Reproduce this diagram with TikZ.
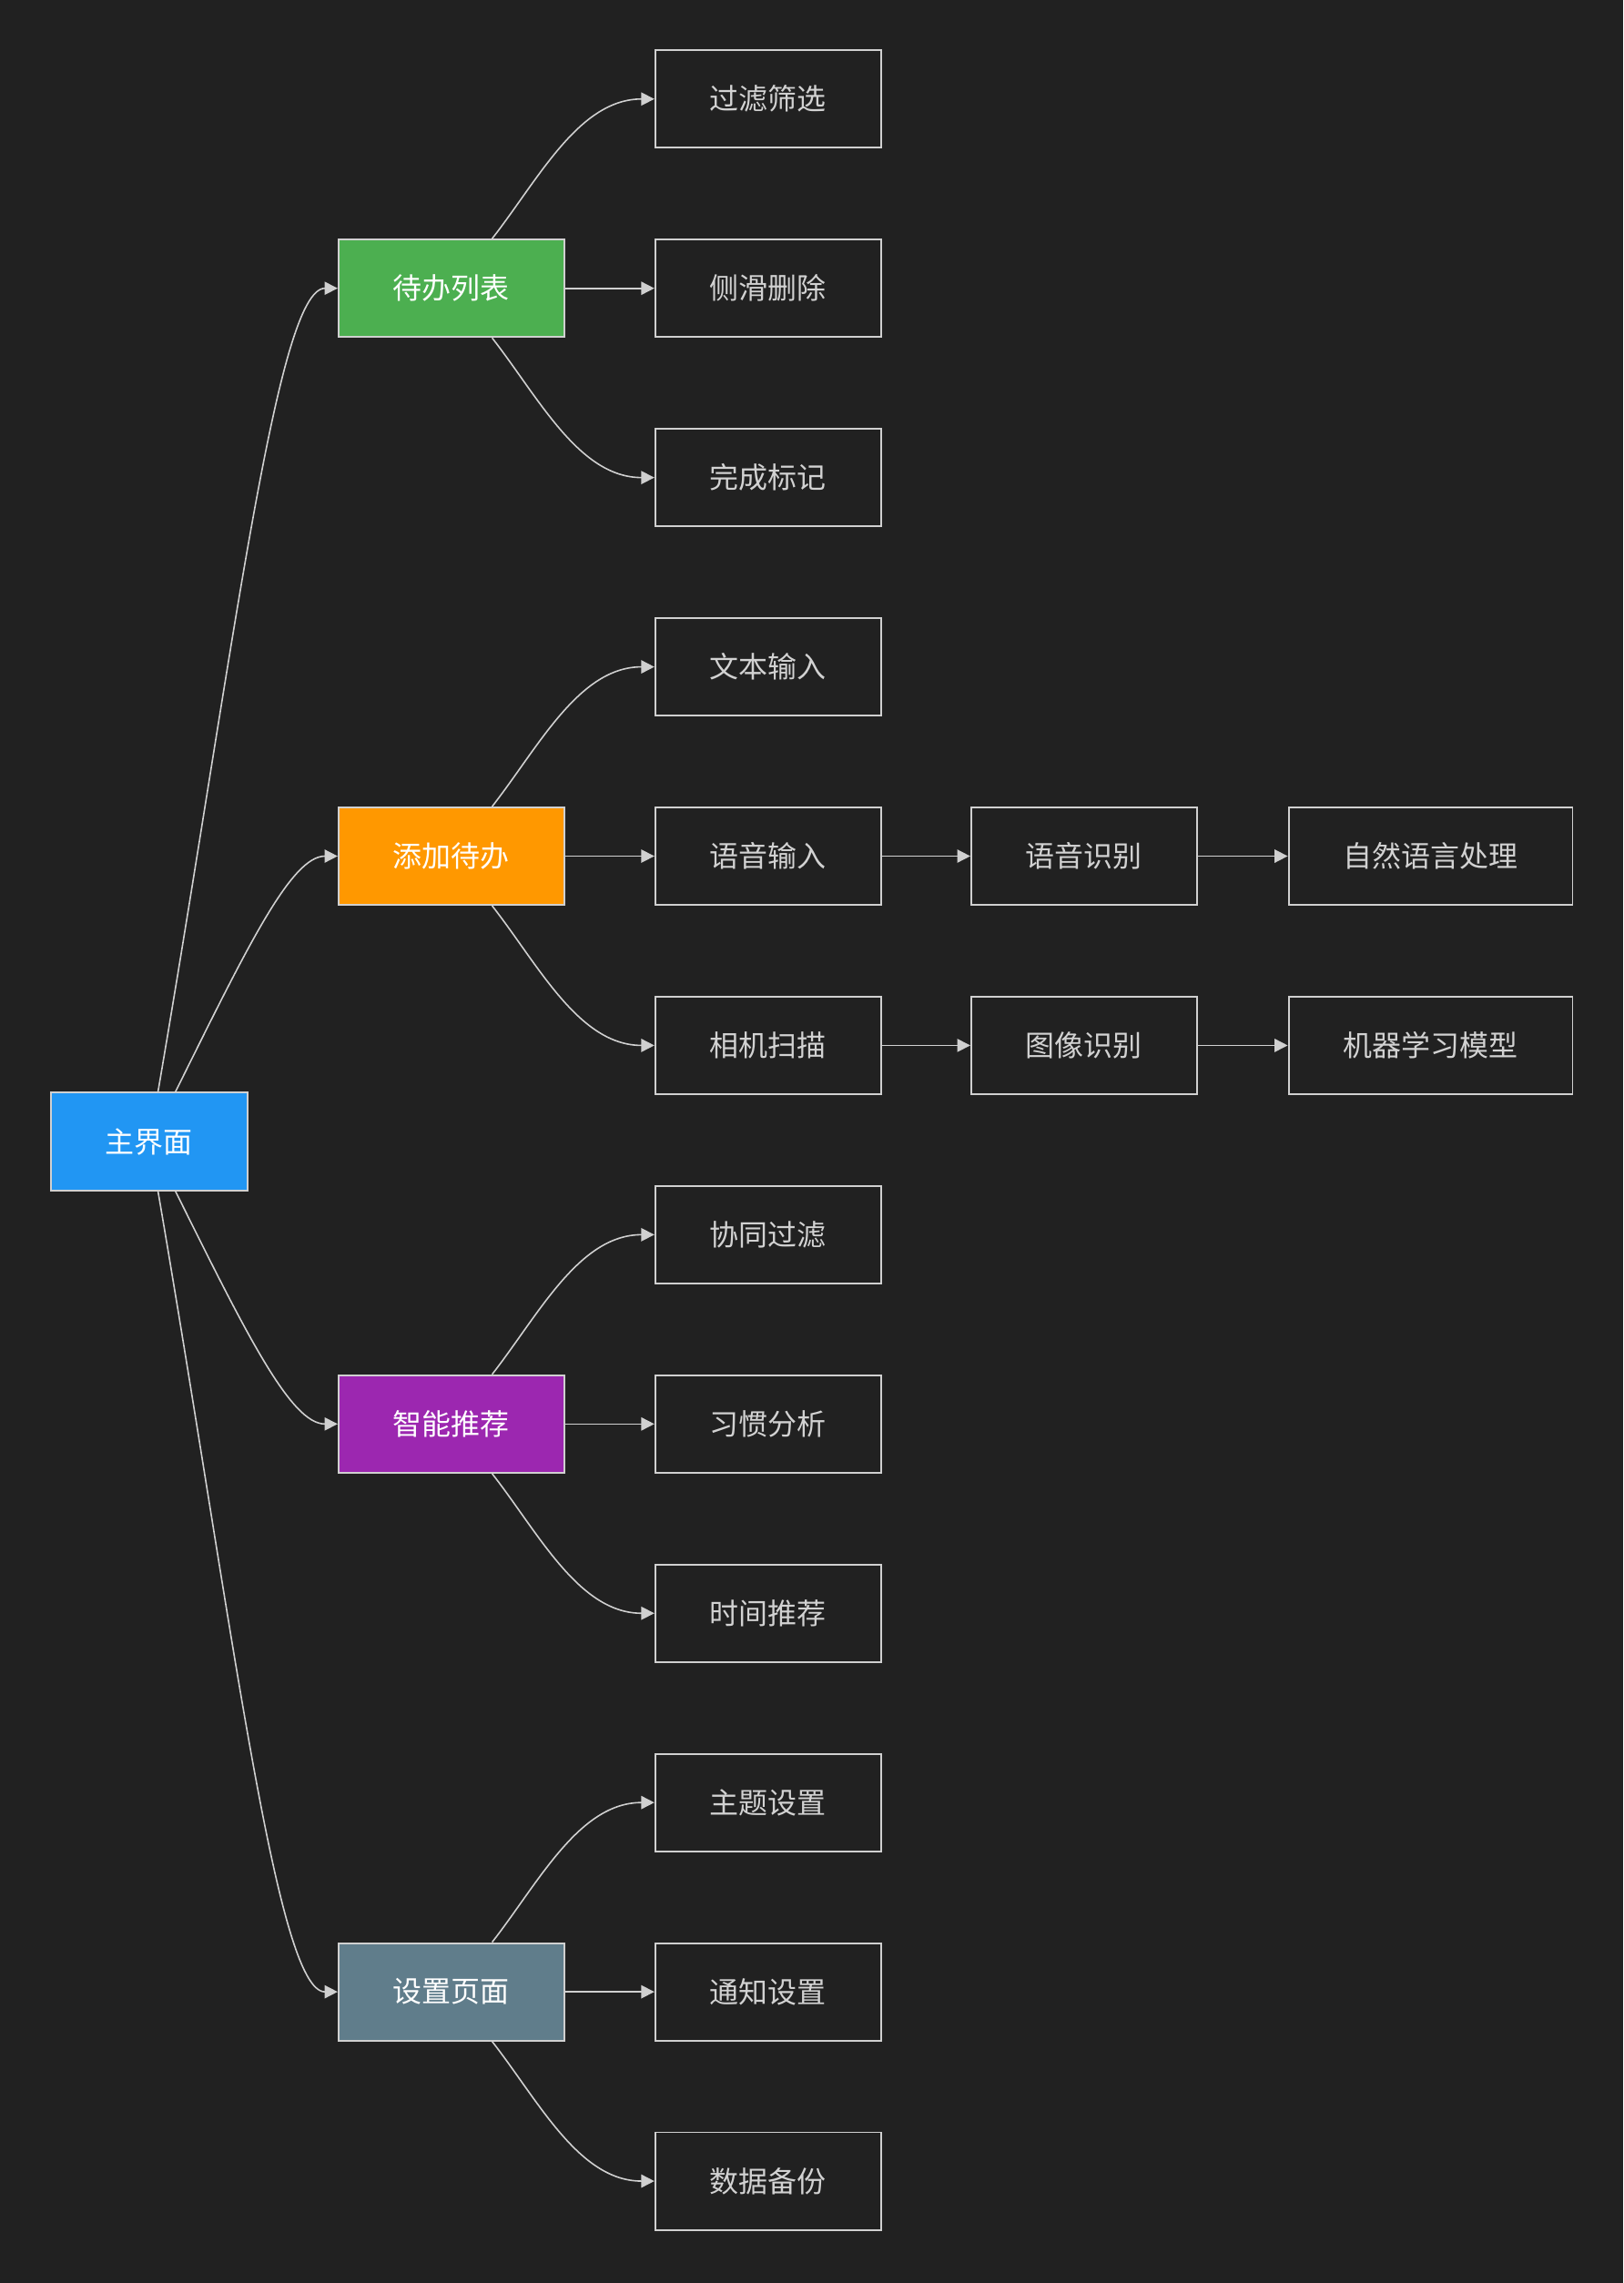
\documentclass[tikz,border=0pt]{standalone}
\usepackage{fontspec}
\setmainfont{Noto Sans CJK SC}
\usetikzlibrary{arrows.meta}
\definecolor{bg}{HTML}{212121}
\definecolor{ln}{HTML}{D0D0D0}
\definecolor{c0}{HTML}{2196F3}
\definecolor{c1}{HTML}{4CAF50}\definecolor{c2}{HTML}{FF9800}\definecolor{c3}{HTML}{9C27B0}\definecolor{c4}{HTML}{607D8B}
\tikzset{
 x=0.5pt,y=-0.5pt,
 box/.style={draw=ln,line width=0.6pt,minimum width=77.5pt,minimum height=33.5pt,inner sep=0pt,font=\fontsize{10}{12}\selectfont},
 leaf/.style={box,fill=bg,text=ln!95},
 wide/.style={leaf,minimum width=97.5pt},
 top/.style={box,text=white,minimum width=77.5pt},
 arr/.style={draw=ln,line width=0.5pt,-{Triangle[length=4.5pt,width=4.5pt]}}
}
\begin{document}
\begin{tikzpicture}
\fill[bg] (0,0) rectangle (1115,1568);
\useasboundingbox (0,0) rectangle (1115,1568);
\node[top,fill=c0,minimum width=67.5pt] (m) at (102.5,784) {主界面};
\node[top,fill=c1] (a) at (310,198) {待办列表};
\node[top,fill=c2] (b) at (310,588) {添加待办};
\node[top,fill=c3] (c) at (310,978) {智能推荐};
\node[top,fill=c4] (d) at (310,1368) {设置页面};
\foreach \n/\y/\t in {a1/68/过滤筛选,a2/198/侧滑删除,a3/328/完成标记,b1/458/文本输入,b2/588/语音输入,b3/718/相机扫描,c1/848/协同过滤,c2/978/习惯分析,c3/1108/时间推荐,d1/1238/主题设置,d2/1368/通知设置,d3/1498/数据备份}
  \node[leaf] (\n) at (527.5,\y) {\t};
\node[leaf] (e1) at (744.5,588) {语音识别};
\node[leaf] (e2) at (744.5,718) {图像识别};
\node[wide] (f1) at (982.5,588) {自然语言处理};
\node[wide] (f2) at (982.5,718) {机器学习模型};
\draw[arr] ([xshift=3pt]m.north) .. controls (160,450) and (190,198) .. (a.west);
\draw[arr] ([xshift=9pt]m.north) .. controls (170,650) and (200,588) .. (b.west);
\draw[arr] ([xshift=9pt]m.south) .. controls (170,918) and (200,978) .. (c.west);
\draw[arr] ([xshift=3pt]m.south) .. controls (160,1118) and (190,1368) .. (d.west);
\foreach \p in {a,b,c,d}{
  \draw[arr] ([xshift=14pt]\p.north) to[out=52,in=180,looseness=0.9] (\p1.west);
  \draw[arr] (\p.east) -- (\p2.west);
  \draw[arr] ([xshift=14pt]\p.south) to[out=-52,in=180,looseness=0.9] (\p3.west);
}
\draw[arr] (b2.east) -- (e1.west);
\draw[arr] (e1.east) -- (f1.west);
\draw[arr] (b3.east) -- (e2.west);
\draw[arr] (e2.east) -- (f2.west);
\end{tikzpicture}
\end{document}
